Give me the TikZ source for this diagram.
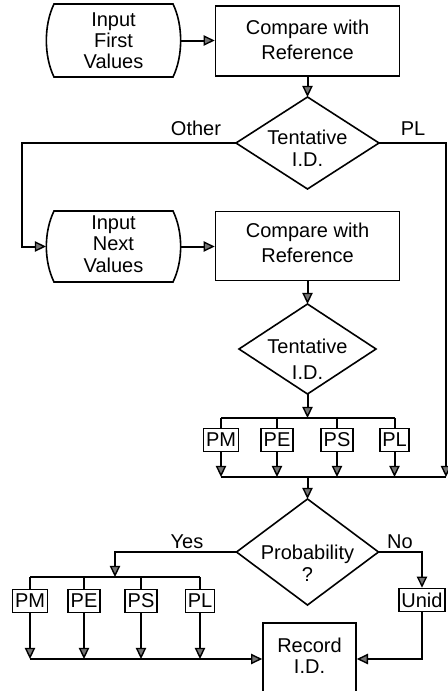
\documentclass[tikz,border=0pt]{standalone}
\usepackage{fontspec}
\setmainfont{Liberation Sans}
\usetikzlibrary{arrows.meta,calc}
\newcommand\mydisp[1]{\draw[line width=0.8pt] ($(#1.north west)+(8,0)$) -- ($(#1.north east)+(-8,0)$) .. controls ($(#1.north east)+(2.2,21)$) and ($(#1.south east)+(2.2,-21)$) .. ($(#1.south east)+(-8,0)$) -- ($(#1.south west)+(8,0)$) .. controls ($(#1.south west)+(-2.2,-21)$) and ($(#1.north west)+(-2.2,21)$) .. ($(#1.north west)+(8,0)$) -- cycle;}
\newcommand\mydiam[1]{\draw[line width=0.8pt] (#1.north) -- (#1.east) -- (#1.south) -- (#1.west) -- cycle;}
\begin{document}
\begin{tikzpicture}[x=0.5pt,y=-0.5pt,
  line width=1pt,
  arr/.style={-{Triangle[length=5.6pt,width=5.2pt,fill=black!55,line width=0.7pt]}},
  hold/.style={rectangle,inner sep=0pt,draw=none},
  box/.style={rectangle,draw,line width=0.8pt,inner sep=0pt},
  sbox/.style={rectangle,draw,line width=0.8pt,inner xsep=1.2pt,inner ysep=0pt,minimum height=11.5pt,font=\fontsize{10}{12}\selectfont},
  txt/.style={align=center,inner sep=0pt,font=\fontsize{10}{11}\selectfont},
  lbl/.style={inner sep=0pt,font=\fontsize{10}{12}\selectfont}]
\useasboundingbox (0,0) rectangle (448,691);

% top row
\node[hold,minimum width=66.5pt,minimum height=35.5pt] (in1) at (113.5,40.5) {};
\mydisp{in1}
\node[txt,font=\fontsize{10}{10.5}\selectfont] (in1t) at (113.5,41) {Input\\First\\Values};
\node[box,minimum width=92pt,minimum height=35pt] (cmp1) at (307.5,41) {};
\node[txt,font=\fontsize{10}{12.5}\selectfont] (cmp1t) at (307.5,40) {Compare with\\Reference};
\node[hold,minimum width=70.5pt,minimum height=45pt] (d1) at (307.5,143) {};
\mydiam{d1}
\node[txt] (d1t) at (307.5,148) {Tentative\\I.D.};

% second row
\node[hold,minimum width=66.5pt,minimum height=34.5pt] (in2) at (113.5,246.5) {};
\mydisp{in2}
\node[txt,font=\fontsize{10}{10.8}\selectfont] (in2t) at (113.5,244) {Input\\Next\\Values};
\node[box,minimum width=92pt,minimum height=34.5pt] (cmp2) at (307.5,246) {};
\node[txt,font=\fontsize{10}{12.5}\selectfont] (cmp2t) at (307.5,243) {Compare with\\Reference};
\node[hold,minimum width=67.5pt,minimum height=44pt] (d2) at (307.5,349) {};
\mydiam{d2}
\node[txt,font=\fontsize{10}{13}\selectfont] (d2t) at (307.5,359) {Tentative\\I.D.};

% first box row
\node[sbox] (pm1) at (221,440) {PM};
\node[sbox] (pe1) at (277,440) {PE};
\node[sbox] (ps1) at (337,440) {PS};
\node[sbox] (pl1) at (394.5,440) {PL};

% probability
\node[hold,minimum width=70pt,minimum height=52pt] (d3) at (307.5,552) {};
\mydiam{d3}
\node[txt] (d3t) at (307.5,563) {Probability\\?};

% second box row
\node[sbox] (pm2) at (30,601) {PM};
\node[sbox] (pe2) at (84,601) {PE};
\node[sbox] (ps2) at (141,601) {PS};
\node[sbox] (pl2) at (200,601) {PL};
\node[sbox] (unid) at (422,600) {Unid};

\node[box,minimum width=46.5pt,minimum height=40pt] (rec) at (309.5,663) {};
\node[txt,font=\fontsize{10}{10.5}\selectfont] (rect) at (309.5,656) {Record\\I.D.};

% labels
\node[lbl] (lother) at (196,128) {Other};
\node[lbl] (lpl) at (413,129) {PL};
\node[lbl] (lyes) at (187,542) {Yes};
\node[lbl] (lno) at (400,542) {No};

% connectors
\coordinate (oL) at (22,143);
\coordinate (oR) at (446,143);
\coordinate (b1) at (307.5,418);
\coordinate (b2) at (307.5,477);
\coordinate (b3) at (115,577);
\coordinate (b4) at (115,659);

\draw[arr] (in1.east) -- (in1.east -| cmp1.west);
\draw[arr] (cmp1.south) -- (d1.north);
\draw[arr] (d1.west) -- (oL) |- (in2.west);
\draw[arr] (in2.east) -- (in2.east -| cmp2.west);
\draw[arr] (cmp2.south) -- (d2.north);
\draw[arr] (d2.south) -- (b1);
\draw (b1 -| pm1.north) -- (b1 -| pl1.north);
\foreach \n in {pm1,pe1,ps1,pl1} {
  \draw (b1 -| \n.north) -- (\n.north);
  \draw[arr] (\n.south) -- (\n.south |- b2);
}
\draw (b2 -| pm1.south) -- (b2 -| oR);
\draw[arr] (d1.east) -- (oR) -- (oR |- b2);
\draw[arr] (b2) -- (d3.north);
\draw[arr] (d3.west) -| (b3);
\draw (b3 -| pm2.north) -- (b3 -| pl2.north);
\foreach \n in {pm2,pe2,ps2,pl2} {
  \draw (b3 -| \n.north) -- (\n.north);
  \draw[arr] (\n.south) -- (\n.south |- b4);
}
\draw[arr] (b4 -| pm2.south) -- (b4 -| rec.west);
\draw[arr] (d3.east) -| (unid.north);
\draw[arr] (unid.south) |- (b4 -| rec.east);
\end{tikzpicture}
\end{document}
